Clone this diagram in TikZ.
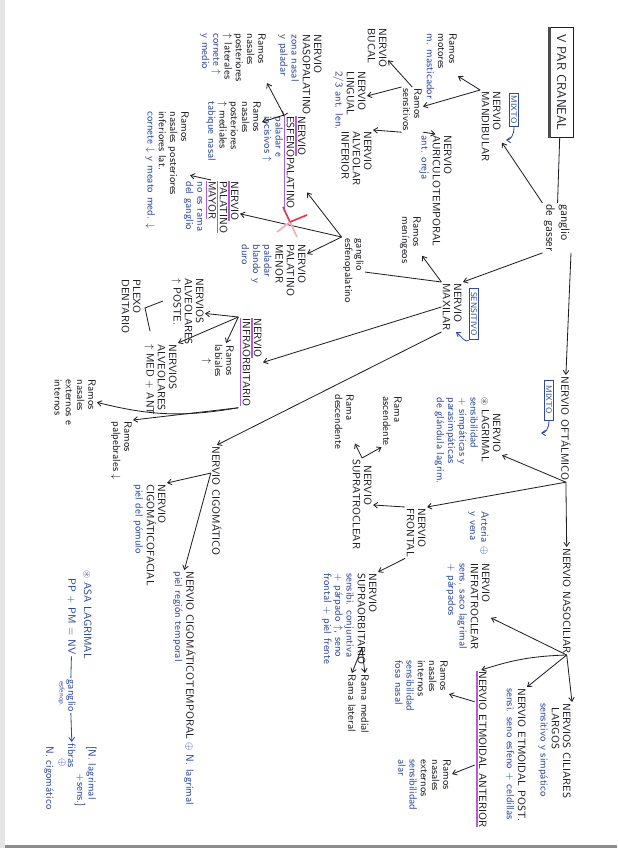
\documentclass[tikz,border=0pt]{standalone}
\usepackage{amsmath,amssymb}
\usepackage{xcolor}
\usetikzlibrary{arrows.meta,calc}
\definecolor{ink}{HTML}{1E1E24}
\definecolor{pen}{HTML}{2E4A9E}
\definecolor{hilite}{HTML}{B45CD0}
\definecolor{crossred}{HTML}{E2334F}
\newcommand{\blu}[1]{{\color{pen}#1}}
\newcommand{\hlpurp}[1]{\setbox0\hbox{#1}\rlap{\color{hilite}\rule[-2.6pt]{\wd0}{1.4pt}}\box0}

\begin{document}
\begin{tikzpicture}[x=0.03cm, y=-0.03cm, >={Straight Barb[length=3.4pt,width=4.8pt]},
    every node/.style={font=\fontsize{9}{9.6}\selectfont\sffamily, text=ink},
    lbl/.style={rotate=-90, anchor=north west, align=left, inner sep=1pt},
    tagbox/.style={rotate=-90, draw=pen, text=pen, line width=0.6pt, font=\fontsize{7}{7.5}\selectfont\sffamily, inner sep=1.5pt},
    link/.style={draw=ink, line width=0.7pt},
    hook/.style={draw=pen, line width=0.7pt, ->}]
    \fill[white] (0,0) rectangle (617,848);
    \fill[black!10] (0,0) rectangle (5,848);
    \fill[black!45] (5,845) rectangle (617,848);
    \useasboundingbox (0,0) rectangle (617,848);

    \node[rotate=-90, draw=ink, line width=0.7pt, minimum width=3.3cm, minimum height=0.69cm, inner sep=1pt, font=\fontsize{11}{12}\selectfont\sffamily] (crane) at (561.5,82.5) {V PAR CRANEAL};
    \draw[ink!80, line width=3.2pt] (crane.south west) -- (crane.south east);
    \node[lbl, font=\fontsize{10.5}{12.5}\selectfont\sffamily] (gasser) at (571,203) {ganglio\\de gasser};

    \node[lbl] (mandib) at (502,90) {NERVIO\\MANDIBULAR};
    \node[tagbox, minimum width=1.0cm] (mixto1) at (514,110) {MIXTO};
    \coordinate (mixto1-tip) at (506,140);
    \node[lbl] (motores) at (458,32) {Ramos\\motores\\\blu{m. masticador}};
    \node[lbl] (sensit) at (423,87) {Ramos\\sensitivos};
    \node[lbl] (auriculo) at (453,134) {NERVIO\\AURICULOTEMPORAL\\\blu{ant. oreja}};
    \node[lbl] (bucal) at (388,27) {NERVIO\\BUCAL};
    \node[lbl] (lingual) at (367,70) {NERVIO\\LINGUAL\\\blu{2/3 ant. len.}};
    \node[lbl] (alvinf) at (373,130) {NERVIO\\ALVEOLAR\\INFERIOR};

    \node[lbl] (maxilar) at (463,282) {NERVIO\\MAXILAR};
    \node[tagbox, minimum width=1.55cm] (sensbox) at (474,314) {SENSITIVO};
    \coordinate (sens-tip) at (456,332);
    \node[lbl] (mening) at (422,215) {Ramos\\meníngeos};
    \node[lbl] (esfenog) at (365,237) {ganglio\\esfenopalatino};
    \node[lbl] (esfeno) at (307,115) {\hlpurp{NERVIO}\\\hlpurp{ESFENOPALATINO}\\\blu{paladar e}\\\blu{incisivos $\uparrow$}};
    \node[lbl] (palmenor) at (307,243) {NERVIO\\PALATINO\\MENOR\\\blu{paladar}\\\blu{blando y}\\\blu{duro}};
    \node[lbl] (palmayor) at (240,180) {\hlpurp{NERVIO}\\\hlpurp{PALATINO}\\\hlpurp{MAYOR}\\\blu{no es rama}\\\blu{del ganglio}};
    \node[lbl] (nasoinf) at (190,110) {Ramos\\nasales posteriores\\inferiores lat.\\\blu{cornete $\downarrow$ y meato med. $\downarrow$}};
    \node[lbl] (nasopal) at (323,33) {NERVIO\\NASOPALATINO\\\blu{zona nasal}\\\blu{y paladar}};
    \node[lbl] (nasolat) at (267,32) {Ramos\\nasales\\posteriores\\$\uparrow$ laterales\\\blu{cornete $\uparrow$}\\\blu{y medio}};
    \node[lbl] (nasomed) at (262,100) {Ramos\\nasales\\posteriores\\$\uparrow$ mediales\\\blu{tabique nasal}};
    \node[lbl] (infraorb) at (263,317) {\hlpurp{NERVIO}\\\hlpurp{INFRAORBITARIO}};
    \node[lbl] (alvpost) at (205,277) {NERVIOS\\ALVEOLARES\\$\uparrow$ POSTE.};
    \node[lbl, align=center] (labiales) at (235,343) {Ramos\\labiales\\$\uparrow$};
    \node[lbl] (alvmed) at (178,343) {NERVIOS\\ALVEOLARES\\$\uparrow$ MED + ANT};
    \node[lbl] (plexo) at (142,278) {PLEXO\\DENTARIO};
    \node[lbl] (nasext) at (97,378) {Ramos\\nasales\\externos e\\internos};
    \node[lbl] (palpeb) at (133,420) {Ramos\\palpebrales $\downarrow$};
    \node[lbl] (cigom) at (223,445) {NERVIO CIGOMÁTICO};
    \node[lbl] (cigofac) at (167,483) {NERVIO\\CIGOMÁTICOFACIAL\\\blu{piel del pómulo}};
    \node[lbl] (cigotemp) at (197,570) {NERVIO CIGOMÁTICOTEMPORAL \blu{$\oplus$ N. lagrimal}\\\blu{piel región temporal}};

    \node[lbl] (oftal) at (572,375) {NERVIO OFTÁLMICO};
    \node[tagbox, minimum width=1.2cm] (mixto2) at (549,400) {MIXTO};
    \coordinate (mixto2-tip) at (541,433);
    \node[lbl] (lagrimal) at (502,396) {\hspace*{1.5em}NERVIO\\$\circledast$ LAGRIMAL\\\blu{sensibilidad}\\\blu{+ simpáticas y}\\\blu{parasimpáticas}\\\blu{de glándula lagrim.}};
    \node[lbl] (frontal) at (427,507) {NERVIO\\FRONTAL};
    \node[lbl] (supratro) at (373,458) {\hspace*{0.6em}NERVIO\\SUPRATROCLEAR};
    \node[lbl] (ramasc) at (403,395) {Rama\\ascendente};
    \node[lbl] (ramdesc) at (355,393) {Rama\\descendente};
    \node[lbl] (supraorb) at (378,572) {NERVIO\\SUPRAORBITARIO\\\blu{sensibi. conjuntiva}\\\blu{+ párpado $\uparrow$, seno}\\\blu{frontal + piel frente}};
    \coordinate (supraorb-fork) at (362,648);
    \node[lbl] (rmedial) at (370,673) {Rama medial};
    \node[lbl] (rlateral) at (357,673) {Rama lateral};
    \node[lbl] (nasoc) at (572,547) {NERVIO NASOCILIAR};
    \node[lbl, text=pen] (artvena) at (490,510) {Arteria $\oplus$\\y vena};
    \node[lbl] (infratro) at (491,562) {NERVIO\\INFRATROCLEAR\\\blu{sens. saco lagrimal}\\\blu{+ párpados}};
    \node[lbl] (etmant) at (488,670) {\hlpurp{NERVIO ETMOIDAL ANTERIOR}};
    \node[lbl] (etmpost) at (527,687) {NERVIO ETMOIDAL POST.\\\blu{sensi. seno esfeno + celdillas}};
    \node[lbl] (ciliares) at (572,702) {NERVIOS CILIARES\\\hspace*{0.4em}LARGOS\\\blu{sensitivo y simpático}};
    \node[lbl] (nasint) at (449,659) {Ramos\\nasales\\internos\\\blu{sensibilidad}\\\blu{fosa nasal}};
    \node[lbl] (nasext2) at (452,758) {Ramos\\nasales\\externos\\\blu{sensibilidad}\\\blu{alar}};

    \node[lbl, text=pen] (asa) at (93,569) {$\circledast$ ASA LAGRIMAL};
    \node[lbl, text=pen] (pp) at (77,577) {PP + PM = NV};
    \node[lbl, text=pen] (gang2) at (77,678) {ganglio};
    \node[lbl, text=pen, font=\fontsize{6}{7}\selectfont\sffamily] (esfe) at (66,680) {esfenop.};
    \node[lbl, text=pen] (fibras) at (77,742) {fibras};
    \node[rotate=-90, text=pen, inner sep=0pt] (fibplus) at (62,763) {$\oplus$};
    \node[lbl, text=pen] (ncig) at (55,745) {N. cigomático};
    \node[lbl, text=pen] (lagsens) at (98,745) {[N. lagrimal\\\hspace*{2.6em}+sens.]};

    \draw[link] (crane) -- (gasser);
    \draw[link,->] (gasser.north east) -- (oftal.west);
    \draw[link,->] (gasser.south west) -- (mandib);
    \draw[link,->] (gasser.south east) -- (maxilar.north west);
    \draw[hook] (mixto1.east) .. controls +(0,9) and +(4,0) .. (mixto1-tip);
    \draw[hook] (sensbox.south east) .. controls +(-3,4) and +(4,3) .. (sens-tip);
    \draw[hook] (mixto2.east) .. controls +(0,9) and +(4,0) .. (mixto2-tip);

    \draw[link,->] (mandib.south west) -- (motores);
    \draw[link,->] (mandib.south west) -- (sensit);
    \draw[link,->] (sensit.north east) -- (auriculo.west);
    \draw[link,->] (sensit.west) -- (bucal);
    \draw[link,->] (sensit.south west) -- (lingual);
    \draw[link,->] (sensit.south east) -- (alvinf.north west);

    \draw[link,->] (maxilar.south west) -- (mening);
    \draw[link] (maxilar.south west) -- (esfenog);
    \draw[link,->] (maxilar.south) -- (infraorb.north);
    \draw[link,->] (maxilar.south east) -- (cigom.west);

    \draw[link,->] (esfenog.south west) -- (esfeno);
    \draw[link,->] (esfenog.south west) -- (palmayor);
    \draw[link,->] (esfenog.south west) -- (palmenor);
    \coordinate (cross) at (290,222);
    \draw[crossred, line width=1.4pt] (cross) ++(-7,-15) -- ++(7,15);
    \draw[crossred!40, line width=1.4pt] (cross) -- ++(7,15);
    \draw[crossred!40, line width=1.4pt] (cross) ++(-13,10) -- ++(13,-10);
    \draw[crossred, line width=1.4pt] (cross) -- ++(17,-7);

    \draw[link,->] (esfeno.west) -- (nasopal);
    \draw[link,->] (esfeno.west) -- (nasolat.north east);
    \draw[link,->] (esfeno.west) -- (nasomed);
    \draw[link,->] (palmayor.west) -- (nasoinf);

    \draw[link,->] (infraorb.south west) -- (alvpost);
    \draw[link,->] (infraorb.south west) -- (labiales);
    \draw[link,->] (infraorb.south west) -- (alvmed.north west);
    \draw[link,->] (infraorb.south east) to[bend left=12] (nasext.north);
    \draw[link,->] (infraorb.south east) -- (palpeb.north west);
    \coordinate (plexo-a) at (163,301);
    \coordinate (plexo-c) at (145,308);
    \coordinate (plexo-b) at (150,331);
    \draw[link] (plexo-a) -- (plexo-c) -- (plexo-b);

    \draw[link,->] ($(cigom.south west)!0.25!(cigom.south east)$) -- (cigofac.north west);
    \draw[link,->] ($(cigom.south west)!0.25!(cigom.south east)$) -- (cigotemp.west);

    \draw[link,->] (oftal.east) -- (lagrimal);
    \draw[link,->] (oftal.east) -- (frontal.north west);
    \draw[link,->] (oftal.east) -- (nasoc.west);
    \draw[link,->] (frontal.south west) -- (supratro);
    \draw[link,->] (frontal.south east) -- (supraorb.north west);
    \draw[link,->] (supratro.west) -- (ramasc.south east);
    \draw[link,->] (supratro.west) -- (ramdesc);
    \draw[link,->] (supraorb-fork) -- (rmedial.west);
    \draw[link,->] (supraorb-fork) -- (rlateral.west);

    \draw[link,->] (nasoc.east) -- (infratro);
    \draw[link,->] (nasoc.east) to[bend right=8] (etmant.west);
    \draw[link,->] (nasoc.east) -- (etmpost.north west);
    \draw[link,->] (nasoc.east) -- (ciliares.north west);
    \draw[link,->] ($(etmant.south west)!0.2!(etmant.south east)$) -- (nasint);
    \draw[link,->] ($(etmant.south west)!0.6!(etmant.south east)$) -- (nasext2);

    \draw[link, draw=pen] (pp.east) -- (gang2.west);
    \draw[link, draw=pen, ->] (gang2.east) -- (fibras.west);
\end{tikzpicture}
\end{document}
